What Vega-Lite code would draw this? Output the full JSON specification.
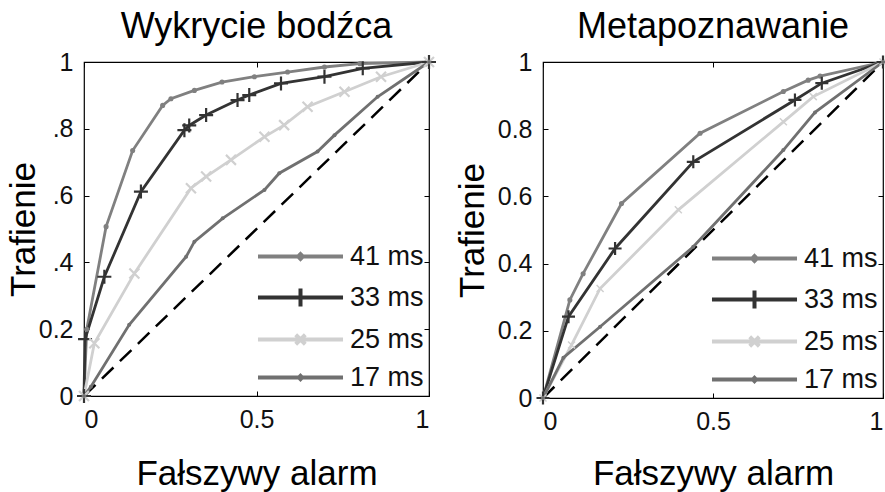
{
  "$schema": "https://vega.github.io/schema/vega-lite/v6.json",
  "padding": {"left": 5, "top": 8, "right": 0, "bottom": 0},
  "background": "white",
  "datasets": {
    "diag": [{"x": 0, "y": 0}, {"x": 1, "y": 1}],
    "roc": [
      {"panel": "A", "series": "41 ms", "x": 0, "y": 0},
      {"panel": "A", "series": "41 ms", "x": 0.008, "y": 0.2},
      {"panel": "A", "series": "41 ms", "x": 0.064, "y": 0.507},
      {"panel": "A", "series": "41 ms", "x": 0.141, "y": 0.735},
      {"panel": "A", "series": "41 ms", "x": 0.228, "y": 0.87},
      {"panel": "A", "series": "41 ms", "x": 0.252, "y": 0.89},
      {"panel": "A", "series": "41 ms", "x": 0.32, "y": 0.915},
      {"panel": "A", "series": "41 ms", "x": 0.4, "y": 0.94},
      {"panel": "A", "series": "41 ms", "x": 0.494, "y": 0.956},
      {"panel": "A", "series": "41 ms", "x": 0.59, "y": 0.97},
      {"panel": "A", "series": "41 ms", "x": 0.697, "y": 0.985},
      {"panel": "A", "series": "41 ms", "x": 0.8, "y": 0.995},
      {"panel": "A", "series": "41 ms", "x": 1, "y": 1},
      {"panel": "A", "series": "33 ms", "x": 0, "y": 0},
      {"panel": "A", "series": "33 ms", "x": 0.003, "y": 0.17},
      {"panel": "A", "series": "33 ms", "x": 0.059, "y": 0.357},
      {"panel": "A", "series": "33 ms", "x": 0.165, "y": 0.612},
      {"panel": "A", "series": "33 ms", "x": 0.291, "y": 0.796},
      {"panel": "A", "series": "33 ms", "x": 0.305, "y": 0.81},
      {"panel": "A", "series": "33 ms", "x": 0.354, "y": 0.841},
      {"panel": "A", "series": "33 ms", "x": 0.445, "y": 0.886},
      {"panel": "A", "series": "33 ms", "x": 0.479, "y": 0.901},
      {"panel": "A", "series": "33 ms", "x": 0.571, "y": 0.936},
      {"panel": "A", "series": "33 ms", "x": 0.697, "y": 0.956},
      {"panel": "A", "series": "33 ms", "x": 0.808, "y": 0.981},
      {"panel": "A", "series": "33 ms", "x": 1, "y": 1},
      {"panel": "A", "series": "25 ms", "x": 0, "y": 0},
      {"panel": "A", "series": "25 ms", "x": 0.03, "y": 0.158},
      {"panel": "A", "series": "25 ms", "x": 0.146, "y": 0.367},
      {"panel": "A", "series": "25 ms", "x": 0.31, "y": 0.622},
      {"panel": "A", "series": "25 ms", "x": 0.354, "y": 0.657},
      {"panel": "A", "series": "25 ms", "x": 0.426, "y": 0.707},
      {"panel": "A", "series": "25 ms", "x": 0.523, "y": 0.776},
      {"panel": "A", "series": "25 ms", "x": 0.58, "y": 0.811},
      {"panel": "A", "series": "25 ms", "x": 0.648, "y": 0.866},
      {"panel": "A", "series": "25 ms", "x": 0.755, "y": 0.911},
      {"panel": "A", "series": "25 ms", "x": 0.861, "y": 0.956},
      {"panel": "A", "series": "25 ms", "x": 1, "y": 1},
      {"panel": "A", "series": "17 ms", "x": 0, "y": 0},
      {"panel": "A", "series": "17 ms", "x": 0.02, "y": 0.028},
      {"panel": "A", "series": "17 ms", "x": 0.131, "y": 0.213},
      {"panel": "A", "series": "17 ms", "x": 0.296, "y": 0.417},
      {"panel": "A", "series": "17 ms", "x": 0.32, "y": 0.462},
      {"panel": "A", "series": "17 ms", "x": 0.402, "y": 0.532},
      {"panel": "A", "series": "17 ms", "x": 0.523, "y": 0.617},
      {"panel": "A", "series": "17 ms", "x": 0.566, "y": 0.667},
      {"panel": "A", "series": "17 ms", "x": 0.677, "y": 0.732},
      {"panel": "A", "series": "17 ms", "x": 0.726, "y": 0.781},
      {"panel": "A", "series": "17 ms", "x": 0.851, "y": 0.896},
      {"panel": "A", "series": "17 ms", "x": 1, "y": 1},
      {"panel": "B", "series": "41 ms", "x": 0, "y": 0},
      {"panel": "B", "series": "41 ms", "x": 0.079, "y": 0.292},
      {"panel": "B", "series": "41 ms", "x": 0.118, "y": 0.37},
      {"panel": "B", "series": "41 ms", "x": 0.231, "y": 0.579},
      {"panel": "B", "series": "41 ms", "x": 0.462, "y": 0.788},
      {"panel": "B", "series": "41 ms", "x": 0.707, "y": 0.912},
      {"panel": "B", "series": "41 ms", "x": 0.78, "y": 0.946},
      {"panel": "B", "series": "41 ms", "x": 0.815, "y": 0.958},
      {"panel": "B", "series": "41 ms", "x": 1, "y": 1},
      {"panel": "B", "series": "33 ms", "x": 0, "y": 0},
      {"panel": "B", "series": "33 ms", "x": 0.075, "y": 0.242},
      {"panel": "B", "series": "33 ms", "x": 0.212, "y": 0.445},
      {"panel": "B", "series": "33 ms", "x": 0.442, "y": 0.703},
      {"panel": "B", "series": "33 ms", "x": 0.741, "y": 0.887},
      {"panel": "B", "series": "33 ms", "x": 0.82, "y": 0.937},
      {"panel": "B", "series": "33 ms", "x": 1, "y": 1},
      {"panel": "B", "series": "25 ms", "x": 0, "y": 0},
      {"panel": "B", "series": "25 ms", "x": 0.084, "y": 0.158},
      {"panel": "B", "series": "25 ms", "x": 0.168, "y": 0.326},
      {"panel": "B", "series": "25 ms", "x": 0.398, "y": 0.56},
      {"panel": "B", "series": "25 ms", "x": 0.707, "y": 0.822},
      {"panel": "B", "series": "25 ms", "x": 0.795, "y": 0.897},
      {"panel": "B", "series": "25 ms", "x": 1, "y": 1},
      {"panel": "B", "series": "17 ms", "x": 0, "y": 0},
      {"panel": "B", "series": "17 ms", "x": 0.06, "y": 0.12},
      {"panel": "B", "series": "17 ms", "x": 0.168, "y": 0.212},
      {"panel": "B", "series": "17 ms", "x": 0.442, "y": 0.45},
      {"panel": "B", "series": "17 ms", "x": 0.707, "y": 0.738},
      {"panel": "B", "series": "17 ms", "x": 0.8, "y": 0.85},
      {"panel": "B", "series": "17 ms", "x": 1, "y": 1}
    ]
  },
  "hconcat": [
    {
      "width": 345,
      "height": 334,
      "title": {"text": "Wykrycie bodźca"},
      "layer": [
        {
          "data": {"name": "diag"},
          "mark": {"type": "line", "color": "black", "strokeDash": [16, 9], "strokeWidth": 2.5},
          "encoding": {
            "x": {"field": "x", "type": "quantitative", "scale": {"domain": [0, 1], "nice": false}, "axis": {"orient": "top", "values": [0, 0.5, 1], "labels": false, "title": null}},
            "y": {"field": "y", "type": "quantitative", "scale": {"domain": [0, 1], "nice": false}, "axis": {"orient": "right", "values": [0, 0.2, 0.4, 0.6, 0.8, 1], "labels": false, "title": null}}
          }
        },
        {
          "data": {"name": "roc"},
          "transform": [{"filter": "datum.panel == 'A'"}],
          "mark": {"type": "line", "strokeWidth": 2.8},
          "encoding": {
            "x": {"field": "x", "type": "quantitative", "axis": {"orient": "bottom", "values": [0, 0.5, 1], "format": "~g", "labelPadding": 16, "titlePadding": 24, "title": "Fałszywy alarm"}},
            "y": {"field": "y", "type": "quantitative", "axis": {"orient": "left", "values": [0, 0.2, 0.4, 0.6, 0.8, 1], "format": "~g", "labelPadding": 16, "titlePadding": -3, "labelExpr": "datum.value == 0.4 ? '.4' : datum.value == 0.6 ? '.6' : datum.value == 0.8 ? '.8' : datum.label", "title": "Trafienie"}},
            "color": {"field": "series", "type": "nominal", "title": null, "scale": {"domain": ["41 ms", "33 ms", "25 ms", "17 ms"], "range": ["#808080", "#333333", "#d0d0d0", "#707070"]}},
            "detail": {"field": "series"}
          }
        },
        {
          "data": {"name": "roc"},
          "transform": [{"filter": "datum.panel == 'A' && datum.series == '41 ms'"}],
          "mark": {"type": "point", "shape": "circle", "filled": true, "size": 26, "opacity": 1},
          "encoding": {
            "x": {"field": "x", "type": "quantitative", "axis": null},
            "y": {"field": "y", "type": "quantitative", "axis": null},
            "color": {"field": "series", "type": "nominal", "title": null}
          }
        },
        {
          "data": {"name": "roc"},
          "transform": [{"filter": "datum.panel == 'A' && datum.series == '33 ms'"}],
          "mark": {"type": "point", "shape": "M-1,0H1M0,-1V1", "filled": false, "size": 196, "strokeWidth": 2.2, "opacity": 1},
          "encoding": {
            "x": {"field": "x", "type": "quantitative", "axis": null},
            "y": {"field": "y", "type": "quantitative", "axis": null},
            "color": {"field": "series", "type": "nominal", "title": null}
          }
        },
        {
          "data": {"name": "roc"},
          "transform": [{"filter": "datum.panel == 'A' && datum.series == '25 ms'"}],
          "mark": {"type": "point", "shape": "M-1,-1L1,1M-1,1L1,-1", "filled": false, "size": 100, "strokeWidth": 2.2, "opacity": 1},
          "encoding": {
            "x": {"field": "x", "type": "quantitative", "axis": null},
            "y": {"field": "y", "type": "quantitative", "axis": null},
            "color": {"field": "series", "type": "nominal", "title": null}
          }
        },
        {
          "data": {"name": "roc"},
          "transform": [{"filter": "datum.panel == 'A' && datum.series == '17 ms'"}],
          "mark": {"type": "point", "shape": "circle", "filled": true, "size": 16, "opacity": 1},
          "encoding": {
            "x": {"field": "x", "type": "quantitative", "axis": null},
            "y": {"field": "y", "type": "quantitative", "axis": null},
            "color": {"field": "series", "type": "nominal", "title": null}
          }
        },
        {
          "data": {"name": "roc"},
          "transform": [{"filter": "datum.panel == 'A' && datum.x > 5"}],
          "mark": {"type": "point", "filled": false, "strokeWidth": 4, "opacity": 1},
          "encoding": {
            "x": {"field": "x", "type": "quantitative", "axis": null},
            "y": {"field": "y", "type": "quantitative", "axis": null},
            "color": {"field": "series", "type": "nominal", "title": null},
            "shape": {"field": "series", "type": "nominal", "title": null, "scale": {"domain": ["41 ms", "33 ms", "25 ms", "17 ms"], "range": ["M-4,0H4M0,-0.22L0.22,0L0,0.22L-0.22,0Z", "M-4,0H4M0,-0.85V0.85", "M-4,0H4M-0.45,-0.45L0.45,0.45M-0.45,0.45L0.45,-0.45", "M-4,0H4M0,-0.15L0.15,0L0,0.15L-0.15,0Z"]}}
          }
        }
      ],
      "resolve": {"axis": {"x": "independent", "y": "independent"}}
    },
    {
      "width": 340,
      "height": 336,
      "title": {"text": "Metapoznawanie"},
      "layer": [
        {
          "data": {"name": "diag"},
          "mark": {"type": "line", "color": "black", "strokeDash": [16, 9], "strokeWidth": 2.5},
          "encoding": {
            "x": {"field": "x", "type": "quantitative", "scale": {"domain": [0, 1], "nice": false}, "axis": {"orient": "top", "values": [0, 0.5, 1], "labels": false, "title": null}},
            "y": {"field": "y", "type": "quantitative", "scale": {"domain": [0, 1], "nice": false}, "axis": {"orient": "right", "values": [0, 0.2, 0.4, 0.6, 0.8, 1], "labels": false, "title": null}}
          }
        },
        {
          "data": {"name": "roc"},
          "transform": [{"filter": "datum.panel == 'B'"}],
          "mark": {"type": "line", "strokeWidth": 2.8},
          "encoding": {
            "x": {"field": "x", "type": "quantitative", "axis": {"orient": "bottom", "values": [0, 0.5, 1], "format": "~g", "labelPadding": 16, "titlePadding": 22, "title": "Fałszywy alarm"}},
            "y": {"field": "y", "type": "quantitative", "axis": {"orient": "left", "values": [0, 0.2, 0.4, 0.6, 0.8, 1], "format": "~g", "labelPadding": 16, "titlePadding": 7, "title": "Trafienie"}},
            "color": {"field": "series", "type": "nominal", "title": null, "scale": {"domain": ["41 ms", "33 ms", "25 ms", "17 ms"], "range": ["#808080", "#333333", "#d0d0d0", "#707070"]}},
            "detail": {"field": "series"}
          }
        },
        {
          "data": {"name": "roc"},
          "transform": [{"filter": "datum.panel == 'B' && datum.series == '41 ms'"}],
          "mark": {"type": "point", "shape": "circle", "filled": true, "size": 26, "opacity": 1},
          "encoding": {
            "x": {"field": "x", "type": "quantitative", "axis": null},
            "y": {"field": "y", "type": "quantitative", "axis": null},
            "color": {"field": "series", "type": "nominal", "title": null}
          }
        },
        {
          "data": {"name": "roc"},
          "transform": [{"filter": "datum.panel == 'B' && datum.series == '33 ms'"}],
          "mark": {"type": "point", "shape": "M-1,0H1M0,-1V1", "filled": false, "size": 169, "strokeWidth": 2.2, "opacity": 1},
          "encoding": {
            "x": {"field": "x", "type": "quantitative", "axis": null},
            "y": {"field": "y", "type": "quantitative", "axis": null},
            "color": {"field": "series", "type": "nominal", "title": null}
          }
        },
        {
          "data": {"name": "roc"},
          "transform": [{"filter": "datum.panel == 'B' && datum.series == '25 ms'"}],
          "mark": {"type": "point", "shape": "M-1,-1L1,1M-1,1L1,-1", "filled": false, "size": 49, "strokeWidth": 1.5, "opacity": 1},
          "encoding": {
            "x": {"field": "x", "type": "quantitative", "axis": null},
            "y": {"field": "y", "type": "quantitative", "axis": null},
            "color": {"field": "series", "type": "nominal", "title": null}
          }
        },
        {
          "data": {"name": "roc"},
          "transform": [{"filter": "datum.panel == 'B' && datum.series == '17 ms'"}],
          "mark": {"type": "point", "shape": "circle", "filled": true, "size": 16, "opacity": 1},
          "encoding": {
            "x": {"field": "x", "type": "quantitative", "axis": null},
            "y": {"field": "y", "type": "quantitative", "axis": null},
            "color": {"field": "series", "type": "nominal", "title": null}
          }
        },
        {
          "data": {"name": "roc"},
          "transform": [{"filter": "datum.panel == 'B' && datum.x > 5"}],
          "mark": {"type": "point", "filled": false, "strokeWidth": 4, "opacity": 1},
          "encoding": {
            "x": {"field": "x", "type": "quantitative", "axis": null},
            "y": {"field": "y", "type": "quantitative", "axis": null},
            "color": {"field": "series", "type": "nominal", "title": null},
            "shape": {"field": "series", "type": "nominal", "title": null, "scale": {"domain": ["41 ms", "33 ms", "25 ms", "17 ms"], "range": ["M-4,0H4M0,-0.22L0.22,0L0,0.22L-0.22,0Z", "M-4,0H4M0,-0.85V0.85", "M-4,0H4M-0.45,-0.45L0.45,0.45M-0.45,0.45L0.45,-0.45", "M-4,0H4M0,-0.15L0.15,0L0,0.15L-0.15,0Z"]}}
          }
        }
      ],
      "resolve": {"axis": {"x": "independent", "y": "independent"}}
    }
  ],
  "resolve": {"scale": {"color": "independent", "shape": "independent"}, "legend": {"color": "independent", "shape": "independent"}},
  "spacing": 13,
  "config": {
    "font": "Liberation Sans",
    "view": {"stroke": "black", "strokeWidth": 1.2},
    "title": {"font": "Liberation Sans", "fontSize": 36, "fontWeight": "normal", "color": "black", "offset": 4},
    "axis": {
      "domain": false,
      "grid": false,
      "tickColor": "black",
      "tickSize": -5,
      "tickWidth": 1,
      "labelFont": "Liberation Sans",
      "labelFontSize": 25,
      "labelColor": "#111111",
      "labelPadding": 16,
      "titleFont": "Liberation Sans",
      "titleFontSize": 35,
      "titleFontWeight": "normal",
      "titleColor": "black"
    },
    "legend": {
      "orient": "bottom-right",
      "offset": 5,
      "padding": 0,
      "labelFont": "Liberation Sans",
      "labelFontSize": 27,
      "labelColor": "#111111",
      "symbolSize": 452,
      "symbolStrokeWidth": 4,
      "labelOffset": 36,
      "rowPadding": 10
    }
  }
}
